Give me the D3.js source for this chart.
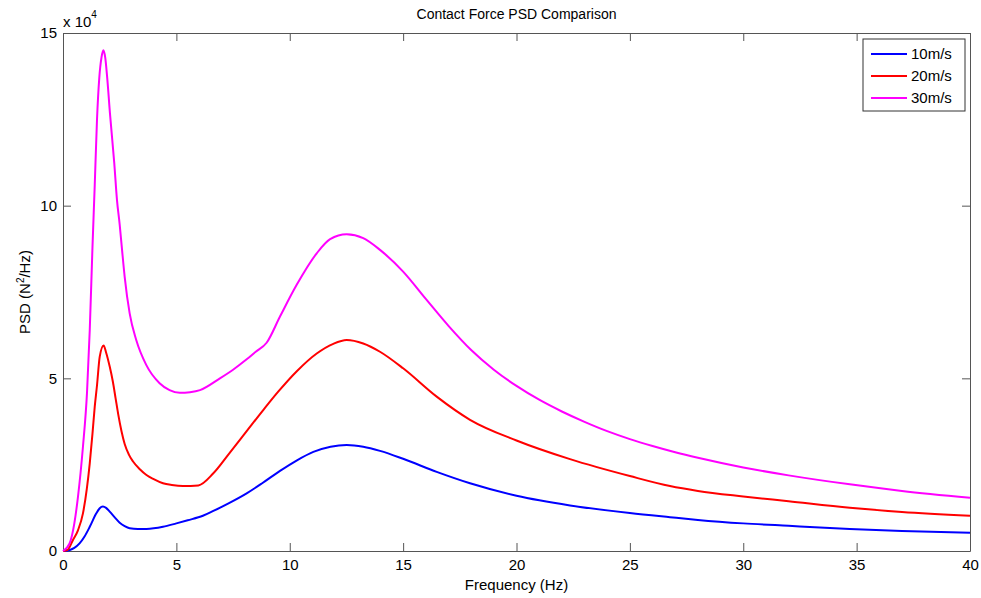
<!DOCTYPE html>
<html>
<head>
<meta charset="utf-8">
<script src="https://cdn.jsdelivr.net/npm/d3@7"></script>
<style>
  body { margin: 0; background: #fff; }
  text { font-family: Arial, "Liberation Sans", sans-serif; fill: #000; }
</style>
</head>
<body>
<div id="chart"></div>
<script>
// PSD values are in units of 1e4 N^2/Hz (axis shows "x 10^4")
const freq10 = [0, 0.3, 0.5, 0.73, 0.95, 1.18, 1.47, 1.62, 1.76, 1.9, 2.06, 2.3, 2.5, 2.72, 2.94, 3.3, 3.68, 4.41, 5.0, 5.5, 6.17, 6.63, 7.3, 8.1, 8.8, 9.57, 10.3, 11.04, 11.8, 12.51, 13.24, 13.98, 15, 16.48, 17.95, 20, 22.36, 25, 26.77, 28, 30, 32, 34.7, 37, 40];
const psd10  = [0, 0.03, 0.09, 0.22, 0.42, 0.70, 1.09, 1.24, 1.29, 1.25, 1.14, 0.96, 0.82, 0.72, 0.66, 0.64, 0.64, 0.70, 0.80, 0.89, 1.02, 1.16, 1.38, 1.67, 1.97, 2.32, 2.62, 2.87, 3.02, 3.07, 3.02, 2.90, 2.67, 2.29, 1.96, 1.60, 1.32, 1.10, 0.98, 0.90, 0.80, 0.73, 0.64, 0.58, 0.53];

const freq20 = [0, 0.2, 0.44, 0.66, 0.88, 1.05, 1.18, 1.3, 1.4, 1.5, 1.62, 1.79, 1.9, 2.06, 2.2, 2.32, 2.43, 2.58, 2.72, 2.9, 3.09, 3.4, 3.68, 4.0, 4.41, 4.8, 5.29, 5.97, 6.63, 7.36, 8.1, 8.83, 9.5, 10.3, 11.19, 11.92, 12.51, 13.24, 13.98, 15, 16.48, 17.95, 20, 22.36, 25, 26.77, 28, 30, 32, 34.7, 37, 40];
const psd20  = [0, 0.03, 0.32, 0.60, 1.09, 1.80, 2.54, 3.40, 4.18, 4.80, 5.63, 5.95, 5.75, 5.34, 4.90, 4.42, 3.98, 3.47, 3.10, 2.80, 2.59, 2.36, 2.20, 2.08, 1.96, 1.91, 1.88, 1.90, 2.25, 2.85, 3.47, 4.08, 4.62, 5.20, 5.72, 6.00, 6.11, 6.01, 5.77, 5.29, 4.47, 3.80, 3.20, 2.66, 2.17, 1.88, 1.74, 1.58, 1.44, 1.25, 1.13, 1.02];

const freq30 = [0, 0.29, 0.5, 0.66, 0.88, 1.06, 1.18, 1.3, 1.4, 1.5, 1.6, 1.7, 1.78, 1.86, 1.95, 2.07, 2.26, 2.38, 2.5, 2.6, 2.72, 2.94, 3.23, 3.67, 4.26, 4.7, 5.15, 5.6, 6.04, 6.92, 7.5, 8.1, 8.5, 8.98, 9.57, 10.3, 11.19, 11.78, 12.51, 13.24, 13.98, 15, 16, 17, 18, 19, 20, 21, 22, 23, 24, 25, 26, 27, 28, 30, 32, 34.7, 37, 40];
const psd30  = [0, 0.22, 0.80, 1.57, 3.02, 4.60, 6.40, 8.80, 10.6, 12.5, 13.7, 14.3, 14.5, 14.3, 13.7, 12.68, 11.24, 10.17, 9.45, 8.75, 7.94, 6.88, 6.11, 5.39, 4.86, 4.66, 4.58, 4.60, 4.66, 5.00, 5.25, 5.55, 5.77, 6.03, 6.79, 7.70, 8.62, 9.03, 9.17, 9.06, 8.72, 8.09, 7.30, 6.52, 5.82, 5.25, 4.78, 4.38, 4.04, 3.74, 3.47, 3.24, 3.04, 2.86, 2.70, 2.42, 2.19, 1.93, 1.74, 1.54];

const seriesNames = ['10m/s', '20m/s', '30m/s'];
const seriesColors = ['#0000ff', '#ff0000', '#ff00ff'];
const xTicks = [0, 5, 10, 15, 20, 25, 30, 35, 40];
const yTicks = [0, 5, 10, 15];

const W = 981, H = 598;
const m = { left: 63, right: 11, top: 33, bottom: 47 };

const svg = d3.select('#chart').append('svg')
    .attr('width', W).attr('height', H);

const x = d3.scaleLinear().domain([0, 40]).range([m.left, W - m.right]);
const y = d3.scaleLinear().domain([0, 15]).range([H - m.bottom, m.top]);

const axisColor = '#555';

// Axes with inward ticks (box style)
const gx = svg.append('g').attr('transform', `translate(0,${y(0)})`)
    .call(d3.axisBottom(x).tickValues(xTicks).tickSizeInner(-8).tickSizeOuter(0).tickPadding(8));
const gxTop = svg.append('g').attr('transform', `translate(0,${y(15)})`)
    .call(d3.axisTop(x).tickValues(xTicks).tickSizeInner(-8).tickSizeOuter(0).tickFormat(''));
const gy = svg.append('g').attr('transform', `translate(${x(0)},0)`)
    .call(d3.axisLeft(y).tickValues(yTicks).tickSizeInner(-8).tickSizeOuter(0).tickPadding(6));
const gyRight = svg.append('g').attr('transform', `translate(${x(40)},0)`)
    .call(d3.axisRight(y).tickValues(yTicks).tickSizeInner(-8).tickSizeOuter(0).tickFormat(''));

[gx, gxTop, gy, gyRight].forEach(g => {
    g.selectAll('path, line').attr('stroke', axisColor).attr('stroke-width', 1);
    g.selectAll('text').style('font-size', '15px').attr('fill', '#000');
});
gx.selectAll('text').attr('dy', '0.75em');

// Curves
const line = d3.line()
    .x(d => x(d[0]))
    .y(d => y(d[1]))
    .curve(d3.curveMonotoneX);

const series = [
    [freq10, psd10],
    [freq20, psd20],
    [freq30, psd30]
];

series.forEach(([f, p], i) => {
    svg.append('path')
        .datum(f.map((v, k) => [v, p[k]]))
        .attr('fill', 'none')
        .attr('stroke', seriesColors[i])
        .attr('stroke-width', 2)
        .attr('d', line);
});

// Title and labels
svg.append('text')
    .attr('x', (x(0) + x(40)) / 2).attr('y', 19)
    .attr('text-anchor', 'middle')
    .style('font-size', '14px')
    .text('Contact Force PSD Comparison');

svg.append('text')
    .attr('x', (x(0) + x(40)) / 2).attr('y', 590)
    .attr('text-anchor', 'middle')
    .style('font-size', '15px')
    .text('Frequency (Hz)');

const yl = svg.append('text')
    .attr('transform', `translate(30,${(y(0) + y(15)) / 2}) rotate(-90)`)
    .attr('text-anchor', 'middle')
    .style('font-size', '15px');
yl.append('tspan').text('PSD (N');
yl.append('tspan').attr('dy', -6).style('font-size', '10px').text('2');
yl.append('tspan').attr('dy', 6).text('/Hz)');

// Exponent label
const ex = svg.append('text')
    .attr('x', 63).attr('y', 27)
    .style('font-size', '15px');
ex.append('tspan').text('x 10');
ex.append('tspan').attr('dy', -9).style('font-size', '10px').text('4');

// Legend
const lg = svg.append('g');
lg.append('rect')
    .attr('x', 863).attr('y', 39).attr('width', 102).attr('height', 72)
    .attr('fill', '#fff').attr('stroke', '#333').attr('stroke-width', 1);
seriesNames.forEach((name, i) => {
    const ly = 54 + i * 22;
    lg.append('line')
        .attr('x1', 871).attr('x2', 907).attr('y1', ly).attr('y2', ly)
        .attr('stroke', seriesColors[i]).attr('stroke-width', 2);
    lg.append('text')
        .attr('x', 911).attr('y', ly).attr('dy', '0.35em')
        .style('font-size', '15px')
        .text(name);
});
</script>
</body>
</html>
